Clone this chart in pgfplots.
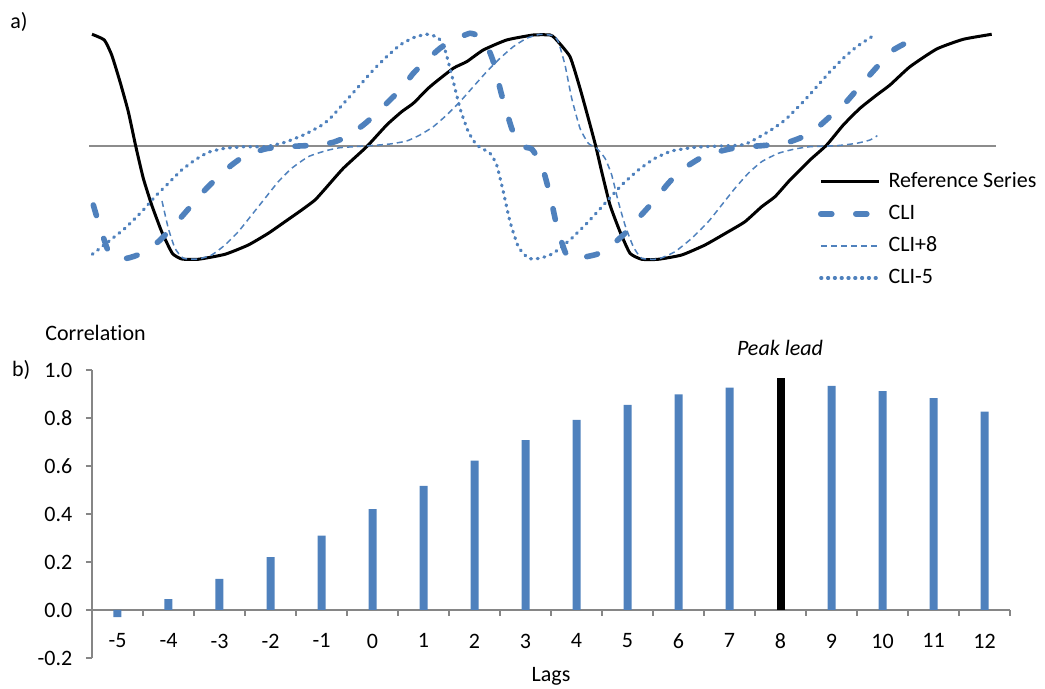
\documentclass[border=0pt]{standalone}
\usepackage{fontspec}
\setmainfont{Carlito}[Ligatures=NoCommon]
\usepackage{pgfplots}
\pgfplotsset{compat=1.18}
\definecolor{cblue}{HTML}{4F81BD}
\definecolor{axisgray}{HTML}{868686}
\definecolor{zerogray}{HTML}{8C8C8C}
\begin{document}
\fontsize{11}{13.2}\selectfont
\begin{tikzpicture}
\path[use as bounding box] (0,0) rectangle (522.5pt,344.5pt);
% ---------------- panel a ----------------
\begin{axis}[
  at={(42.5pt,211.5pt)}, anchor=south west,
  scale only axis, width=457.5pt, height=120pt,
  xmin=-7, xmax=908, ymin=-120, ymax=120,
  axis lines=none, clip=false,
  legend style={draw=none, fill=none, at={(axis cs:726,-84)}, anchor=west,
    inner sep=0pt, outer sep=0pt, row sep=0pt,
    font=\fontsize{11}{13.2}\selectfont,
    nodes={inner sep=0pt, minimum height=16pt, anchor=west},
    /tikz/every odd column/.append style={column sep=3.5pt}},
  legend cell align=left,
  legend image code/.code={\draw[#1] (0pt,0pt) -- (29pt,0pt);},
]
\addplot[zerogray, line width=0.8pt, forget plot] coordinates {(-3,0) (904,0)};
\addplot[black, line width=1.5pt, smooth, tension=0.3] coordinates {
(0,111.7) (12.3,106) (19.7,91) (28,64.3) (36.3,34.3) (43.7,0) (51.3,-32.3) (59.7,-59)
(69.7,-85.7) (80.3,-107.3) (89.7,-113) (106.3,-113.3) (133,-108.3) (156.3,-99)
(176.3,-87.3) (193,-75.7) (209.7,-64) (223,-54) (233,-43) (251.3,-22.3) (274.7,-0.7)
(294.7,21) (309.7,34.3) (321.3,42.7) (338,59.3) (361.3,77.7) (374.7,84.3) (391.3,96)
(414.7,106) (441.3,111) (458,111) (463,107.7) (478,89.3) (488,57.7) (496.3,27.7)
(503.7,0) (509.7,-25.7) (518,-59) (528,-85.7) (538,-107.3) (549.7,-113.3) (566.3,-113.3)
(589.7,-109) (613,-99) (636.3,-85.7) (653,-75.7) (669.7,-60.7) (683,-50.7) (698,-34)
(718,-14) (734.7,1) (751.3,21) (768,37.7) (784.7,51) (798,61) (818,79.3) (844.7,97)
(871.3,106.7) (899.7,111.7)};
\addlegendentry{Reference Series}
\addplot[cblue, line width=2.8pt, line cap=round, dash pattern=on 5.5pt off 12pt, smooth, tension=0.3] coordinates {
(1.3,-59) (6.3,-75.7) (18,-109) (34.7,-112.3) (49.7,-107.3) (66.3,-95.7) (76.3,-85.7)
(89.7,-70.7) (101.3,-57.3) (113,-44) (126.3,-30.7) (139.7,-19) (153,-9.7) (173,-3)
(188,-1) (214,0.3) (223,0.3) (241.3,3.7) (254.7,9.3) (271.3,21) (284.7,32.7) (298,46)
(309.7,57.7) (321.3,72.7) (333,84.3) (348,97.7) (361.3,106) (378,112.7) (388,109.3)
(394.7,101) (401.3,84.3) (409.7,51) (419.7,17.7) (428,0.3) (439.7,-3) (449.7,-19)
(458,-49) (465.3,-82.3) (473,-105.7) (478,-112.3) (486.3,-112.3) (504.7,-108.3)
(518,-100.7) (533,-87.3) (546.3,-72.3) (561.3,-55.7) (576.3,-37.3) (589.7,-24)
(608,-12.3) (626.3,-5.7) (646.3,-1.3) (669.7,0.3) (693,2.7) (711.3,9.3) (724.7,17.7)
(739.7,31) (753,42.7) (764.7,56) (776.3,69.3) (789.7,84.3) (801.3,96) (816.3,104.3)
(829.7,111)};
\addlegendentry{CLI}
\addplot[cblue, line width=0.75pt, dash pattern=on 3pt off 2pt, smooth, tension=0.3] coordinates {
(70,-55) (76.3,-82.3) (83,-102.3) (91.3,-112.3) (106.3,-113) (119.7,-109) (133,-99)
(146.3,-85.7) (159.7,-69) (173,-52.3) (186.3,-35.7) (199.7,-22.3) (216.3,-10.7)
(233,-5) (248,-1.7) (278,0.3) (298,2) (314.7,5) (328,11) (341.3,19.3) (354.7,31)
(368,44.3) (381.3,59.3) (394.7,74.3) (408,87.7) (421.3,99.3) (434.7,107.7) (448,111.7)
(461.3,110.3) (466.3,104.3) (473,81) (479.7,47.7) (488,17.7) (496.3,2.7) (504.7,-2.3)
(513,-12.3) (519.7,-29) (526.3,-55.7) (533,-79) (541.3,-100.7) (549.7,-112.3)
(566.3,-113) (583,-105.7) (599.7,-92.3) (616.3,-75.7) (629.7,-59) (643,-42.3)
(656.3,-27.3) (669.7,-15.7) (686.3,-7.3) (703,-3) (718,-0.7) (744.7,0.3) (764.7,2.7)
(778,6) (785.3,10.3)};
\addlegendentry{CLI+8}
\addplot[cblue, line width=1.6pt, line cap=round, dash pattern=on 0.5pt off 2.9pt, smooth, tension=0.3] coordinates {
(0.3,-108.3) (16.3,-95.7) (33,-82.3) (49.7,-65.7) (63,-50.7) (76.3,-37.3) (89.7,-24)
(103,-14) (116.3,-6.3) (133,-2.3) (153,-0.7) (173,-0.7) (193,3.7) (213,11.7)
(231.3,21.7) (241.3,31) (254.7,46) (268,61) (281.3,76) (294.7,89.3) (308,101)
(321.3,108.3) (334.7,111.7) (346.3,108.3) (353,96) (359.7,71) (368,37.7) (376.3,14.3)
(384.7,1) (398,-7.3) (404.7,-19) (411.3,-45.7) (418,-75.7) (426.3,-100.7) (436.3,-112.3)
(448,-112.3) (461.3,-107.3) (479.7,-92.3) (496.3,-75.7) (513,-57.3) (529.7,-39)
(546.3,-24) (563,-12.3) (579.7,-5) (603,-1.3) (629.7,0) (653,1.7) (676.3,14.3)
(693,26) (711.3,44.3) (724.7,59.3) (738,74.3) (751.3,87.7) (764.7,99.3) (781.3,110.3)};
\addlegendentry{CLI-5}
\end{axis}
% ---------------- panel b ----------------
\begin{axis}[
  at={(46pt,15.5pt)}, anchor=south west,
  scale only axis, width=459pt, height=144pt,
  xmin=-5.5, xmax=12.5, ymin=-0.2, ymax=1.0,
  axis y line=left, axis x line=middle,
  hide obscured x ticks=false, hide obscured y ticks=false,
  axis line style={draw=axisgray, line width=0.9pt, -},
  tick style={draw=axisgray, line width=0.9pt},
  tick align=outside, major tick length=3pt,
  xtick={-5.5,-4.5,...,12.5},
  x tick label as interval,
  xticklabels={-5,-4,-3,-2,-1,0,1,2,3,4,5,6,7,8,9,10,11,12},
  ytick={-0.2,0,0.2,0.4,0.6,0.8,1.0},
  /pgf/number format/fixed, /pgf/number format/fixed zerofill,
  /pgf/number format/precision=1, /pgf/number format/assume math mode=true,
  tick label style={font=\fontsize{11}{13.2}\selectfont},
  xticklabel style={yshift=-5pt},
  yticklabel style={xshift=-3pt},
  clip=false,
]
\addplot[ybar, bar width=4pt, bar shift=0pt, fill=cblue, draw=none] coordinates {
(-5,-0.03) (-4,0.045) (-3,0.13) (-2,0.22) (-1,0.31) (0,0.42) (1,0.517) (2,0.622)
(3,0.708) (4,0.792) (5,0.855) (6,0.898) (7,0.926) (9,0.934) (10,0.912) (11,0.883) (12,0.827)};
\addplot[ybar, bar width=4pt, bar shift=0pt, fill=black, draw=none] coordinates {(8,0.965)};
\end{axis}
% labels
\node[anchor=base west, inner sep=0pt] at (5pt,330.3pt) {a)};
\node[anchor=base west, inner sep=0pt] at (5.85pt,156pt) {b)};
\node[anchor=base west, inner sep=0pt] at (22.5pt,174pt) {Correlation};
\node[anchor=base, inner sep=0pt] at (275.5pt,3.5pt) {Lags};
\node[anchor=base, inner sep=0pt, font=\itshape] at (390pt,166.5pt) {Peak lead};
\end{tikzpicture}
\end{document}
